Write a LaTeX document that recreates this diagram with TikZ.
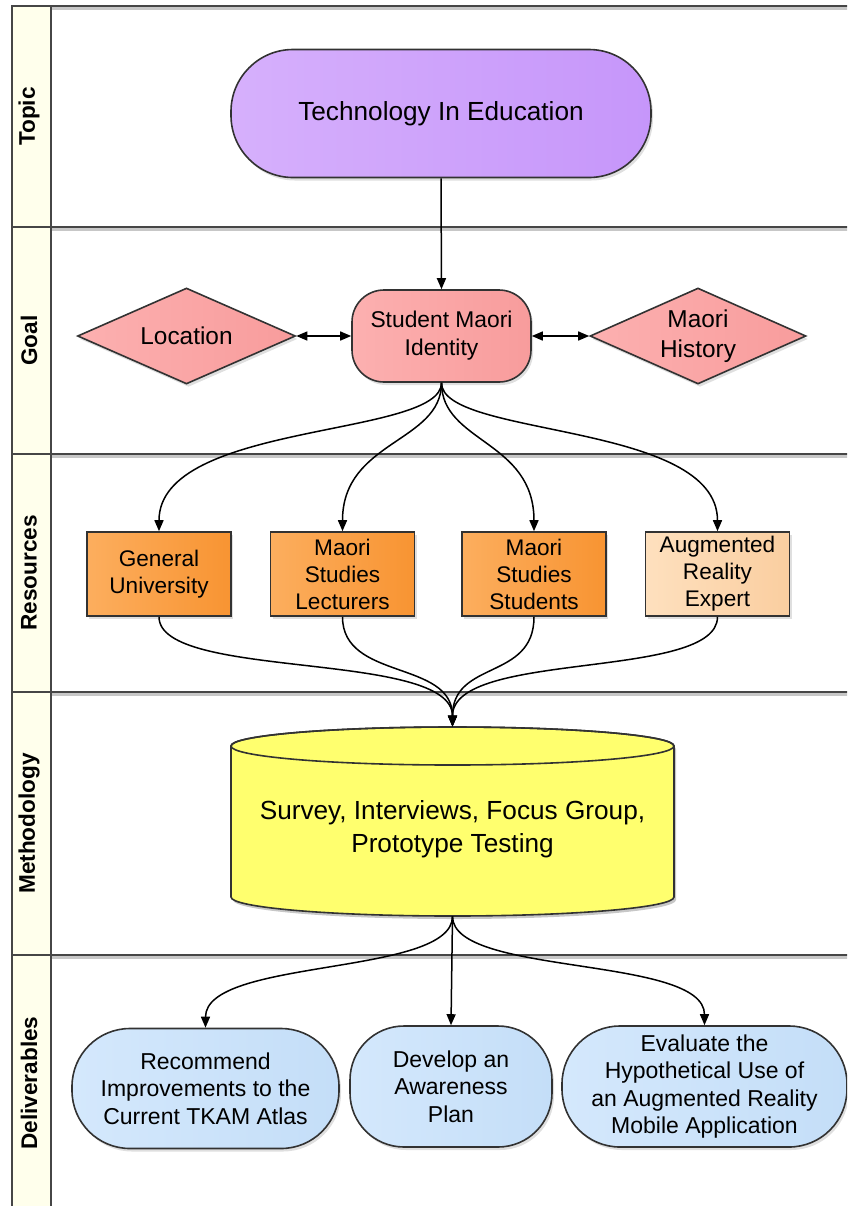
\documentclass[tikz,border=0pt]{standalone}
\usepackage{fontspec}
\setmainfont{Liberation Sans}
\usetikzlibrary{shapes.geometric,arrows.meta,shadows}
\definecolor{bordercol}{RGB}{50,50,50}
\definecolor{framecol}{RGB}{70,70,70}
\definecolor{lanefill}{RGB}{255,255,236}
\definecolor{topicL}{RGB}{214,176,252}
\definecolor{topicR}{RGB}{198,150,250}
\definecolor{pinkL}{RGB}{252,176,176}
\definecolor{pinkR}{RGB}{248,156,156}
\definecolor{orangeL}{RGB}{252,174,94}
\definecolor{orangeR}{RGB}{248,148,50}
\definecolor{peachL}{RGB}{254,224,190}
\definecolor{peachR}{RGB}{250,206,160}
\definecolor{cylfill}{RGB}{255,255,110}
\definecolor{blueL}{RGB}{212,232,252}
\definecolor{blueR}{RGB}{196,222,248}
\begin{document}
\begin{tikzpicture}[x=0.5pt,y=-0.5pt,
  frameline/.style={draw=framecol, line width=1pt},
  frameshadow/.style={draw=black!22, line width=1.6pt},
  lanelabel/.style={rotate=90, font=\bfseries\fontsize{11.3}{13.6}\selectfont},
  shaded/.style={draw=bordercol, line width=0.8pt,
     drop shadow={shadow xshift=1pt, shadow yshift=-1.5pt, opacity=0.25}},
  topicnode/.style={shaded, rectangle, rounded corners=31pt, minimum width=210pt,
     minimum height=64pt, left color=topicL, right color=topicR,
     font=\fontsize{13.1}{16.5}\selectfont},
  goalnode/.style={shaded, rectangle, rounded corners=16pt, minimum width=89.5pt,
     minimum height=46pt, inner sep=1pt, align=center, left color=pinkL, right color=pinkR,
     font=\fontsize{11.4}{14}\selectfont},
  diam/.style={shaded, diamond, aspect=2.27, inner sep=0pt, minimum width=109pt,
     minimum height=48pt, align=center, left color=pinkL, right color=pinkR,
     font=\fontsize{12.2}{15}\selectfont},
  resbox/.style={shaded, rectangle, minimum width=72pt, minimum height=42pt,
     inner sep=1pt, align=center, left color=orangeL, right color=orangeR,
     font=\fontsize{11.3}{13.5}\selectfont},
  arbox/.style={resbox, left color=peachL, right color=peachR},
  delivnode/.style={shaded, rectangle, rounded corners=29pt, minimum height=60pt,
     inner sep=1pt, align=center, left color=blueL, right color=blueR,
     font=\fontsize{11.5}{13.75}\selectfont},
  conn/.style={draw=black, line width=0.75pt, -{Triangle[length=5.5pt,width=4.5pt]}},
  dconn/.style={draw=black, line width=0.75pt,
     {Triangle[length=5.5pt,width=4.5pt]}-{Triangle[length=5.5pt,width=4.5pt]}}
]
\clip (0,0) rectangle (847,1206);
% lanes
\fill[lanefill] (12,6) rectangle (51,1230);
\draw[frameshadow] (51,8.5) -- (870,8.5);
\foreach \yy in {227,454,692,955}{
  \draw[frameshadow] (51,\yy+2.5) -- (870,\yy+2.5);
}
\draw[frameline] (12,1230) -- (12,6) -- (870,6);
\draw[frameline] (51,6) -- (51,1230);
\foreach \yy in {227,454,692,955}{
  \draw[frameline] (12,\yy) -- (870,\yy);
}
\node[lanelabel] (ltopic) at (29,116.5) {Topic};
\node[lanelabel] (lgoal) at (29,340.5) {Goal};
\node[lanelabel] (lres) at (29,573) {Resources};
\node[lanelabel] (lmeth) at (29,823.5) {Methodology};
\node[lanelabel] (ldel) at (29,1083) {Deliverables};

% topic
\node[topicnode] (topic) at (441,113.5) {Technology In Education};

% goal
\node[goalnode] (goal) at (441.5,336) {Student Maori\\Identity};
\node[diam] (loc) at (186.5,336) {Location};
\node[diam, minimum width=108pt] (hist) at (698,336) {Maori\\History};

% resources
\node[resbox] (gu) at (159,574) {General\\University};
\node[resbox] (msl) at (342.5,574) {Maori\\Studies\\Lecturers};
\node[resbox] (mss) at (534,574) {Maori\\Studies\\Students};
\node[arbox] (are) at (717.5,574) {Augmented\\Reality\\Expert};

% methodology cylinder
\node[inner sep=0pt, minimum width=221.5pt, minimum height=94.5pt] (meth) at (452.5,821.5) {};
\begin{scope}[shift={(2,3)}]
\fill[black, opacity=0.22] (231,746) -- (231,897)
  arc[start angle=180, end angle=360, x radius=110.75pt, y radius=9.5pt]
  -- (674,746)
  arc[start angle=0, end angle=180, x radius=110.75pt, y radius=9.5pt] -- cycle;
\end{scope}
\path[fill=cylfill, draw=bordercol, line width=0.8pt] (231,746) -- (231,897)
  arc[start angle=180, end angle=360, x radius=110.75pt, y radius=9.5pt]
  -- (674,746)
  arc[start angle=0, end angle=180, x radius=110.75pt, y radius=9.5pt] -- cycle;
\draw[bordercol, line width=0.8pt] (452.5,746) ellipse [x radius=110.75pt, y radius=9.5pt];
\node[align=center, font=\fontsize{13.1}{16.5}\selectfont] (methtext) at (452.5,829)
  {Survey, Interviews, Focus Group,\\Prototype Testing};

% deliverables
\node[delivnode, minimum width=133.5pt] (d1) at (205.5,1088.5)
  {Recommend\\Improvements to the\\Current TKAM Atlas};
\node[delivnode, minimum width=101pt, minimum height=60.5pt, rounded corners=27pt] (d2) at (451,1086.5)
  {Develop an\\Awareness\\Plan};
\node[delivnode, minimum width=142.5pt, minimum height=60.5pt] (d3) at (704.5,1086.5)
  {Evaluate the\\Hypothetical Use of\\an Augmented Reality\\Mobile Application};

% connectors
\draw[conn] (topic.south) -- (goal.north);
\draw[dconn] (loc.east) -- (goal.west);
\draw[dconn] (goal.east) -- (hist.west);

\draw[conn] (goal.south) .. controls +(0,55) and +(0,-110) .. (gu.north);
\draw[conn] (goal.south) .. controls +(0,60) and +(0,-91) .. (msl.north);
\draw[conn] (goal.south) .. controls +(0,60) and +(0,-91) .. (mss.north);
\draw[conn] (goal.south) .. controls +(0,55) and +(0,-110) .. (are.north);

\draw[conn] (gu.south) .. controls +(0,64) and +(0,-77) .. (meth.north);
\draw[conn] (msl.south) .. controls +(0,64) and +(0,-67) .. (meth.north);
\draw[conn] (mss.south) .. controls +(0,64) and +(0,-67) .. (meth.north);
\draw[conn] (are.south) .. controls +(0,64) and +(0,-77) .. (meth.north);

\draw[conn] (meth.south) .. controls +(0,60) and +(0,-70) .. (d1.north);
\draw[conn] (meth.south) -- (d2.north);
\draw[conn] (meth.south) .. controls +(0,60) and +(0,-70) .. (d3.north);
\end{tikzpicture}
\end{document}
